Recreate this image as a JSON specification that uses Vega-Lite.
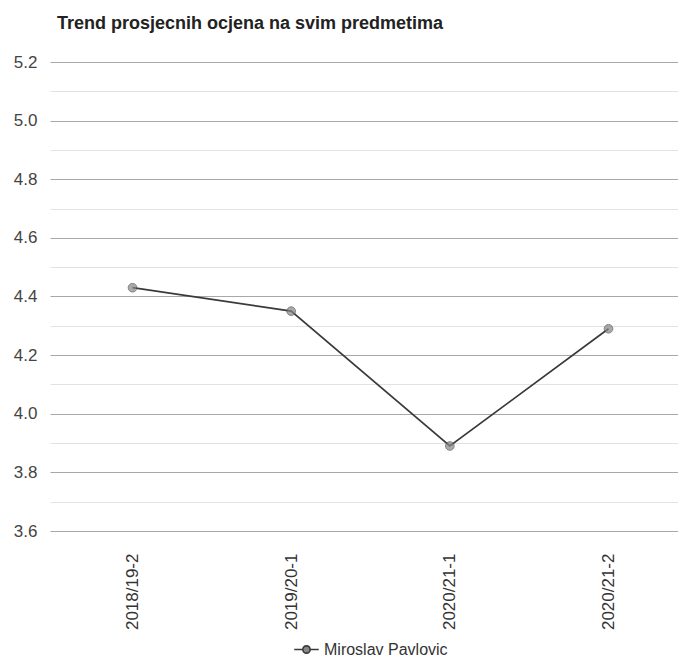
{
  "$schema": "https://vega.github.io/schema/vega-lite/v6.json",
  "width": 641,
  "height": 469,
  "padding": {"left": 8, "top": 15, "right": 0, "bottom": 0},
  "background": "white",
  "title": {
    "text": "Trend prosjecnih ocjena na svim predmetima",
    "anchor": "start",
    "frame": "group",
    "dx": 7,
    "offset": 20,
    "font": "Liberation Sans",
    "fontSize": 18,
    "fontWeight": "bold",
    "color": "#222"
  },
  "data": {
    "values": [
      {"semestar": "2018/19-2", "ocjena": 4.43, "ucenik": "Miroslav Pavlovic"},
      {"semestar": "2019/20-1", "ocjena": 4.35, "ucenik": "Miroslav Pavlovic"},
      {"semestar": "2020/21-1", "ocjena": 3.89, "ucenik": "Miroslav Pavlovic"},
      {"semestar": "2020/21-2", "ocjena": 4.29, "ucenik": "Miroslav Pavlovic"}
    ]
  },
  "encoding": {
    "x": {
      "field": "semestar",
      "type": "nominal",
      "sort": null,
      "scale": {"type": "point", "padding": 0.52},
      "axis": {
        "title": null,
        "labelAngle": 270,
        "labelAlign": "right",
        "labelBaseline": "middle",
        "labelFont": "Liberation Sans",
        "labelFontSize": 17,
        "labelColor": "#333",
        "labelPadding": 22,
        "domain": false,
        "ticks": false,
        "grid": false
      }
    },
    "y": {
      "field": "ocjena",
      "type": "quantitative",
      "scale": {"domain": [3.6, 5.2], "nice": false, "zero": false},
      "axis": {
        "title": null,
        "values": [3.6, 3.7, 3.8, 3.9, 4.0, 4.1, 4.2, 4.3, 4.4, 4.5, 4.6, 4.7, 4.8, 4.9, 5.0, 5.1, 5.2],
        "format": ".1f",
        "labelExpr": "round(datum.value*10) % 2 == 1 ? '' : datum.label",
        "gridColor": {"condition": {"test": "round(datum.value*10) % 2 == 1", "value": "#e2e2e2"}, "value": "#a8a8a8"},
        "gridWidth": 1,
        "domain": false,
        "ticks": false,
        "labelPadding": 13,
        "labelFont": "Liberation Sans",
        "labelFontSize": 17,
        "labelColor": "#444",
        "minExtent": 42,
        "maxExtent": 42
      }
    }
  },
  "layer": [
    {
      "mark": {"type": "line", "strokeWidth": 1.7},
      "encoding": {
        "color": {
          "field": "ucenik",
          "type": "nominal",
          "scale": {"range": ["#3a3a3a"]},
          "legend": {
            "title": null,
            "orient": "bottom",
            "symbolType": "M-1,0L-0.3,0M0.3,0L1,0M-0.3,0A0.3,0.3 0 1 1 0.3,0A0.3,0.3 0 1 1 -0.3,0Z",
            "symbolSize": 600,
            "symbolStrokeWidth": 1.6,
            "symbolFillColor": "#888888",
            "labelFont": "Liberation Sans",
            "labelFontSize": 16,
            "labelColor": "#333",
            "padding": 0,
            "offset": 6
          }
        }
      }
    },
    {
      "mark": {"type": "point", "filled": true, "size": 75, "fill": "#858585", "stroke": "#505050", "strokeWidth": 1},
      "encoding": {}
    }
  ],
  "config": {
    "view": {"stroke": null},
    "legend": {"layout": {"bottom": {"anchor": "middle"}}}
  }
}
